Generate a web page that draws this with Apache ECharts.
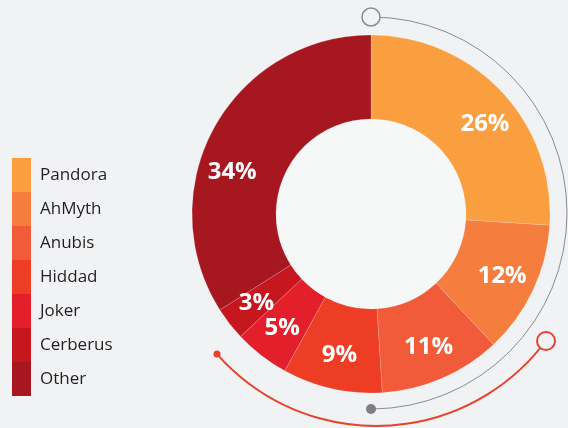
<!DOCTYPE html>
<html>
<head>
<meta charset="utf-8">
<title>Malware families</title>
<script src="https://cdn.jsdelivr.net/npm/echarts@6/dist/echarts.min.js"></script>
<style>
  html, body { margin: 0; padding: 0; background: #f1f2f4; }
  #main { width: 568px; height: 428px; }
</style>
</head>
<body>
<div id="main"></div>
<script>
// data
var families = ['Pandora', 'AhMyth', 'Anubis', 'Hiddad', 'Joker', 'Cerberus', 'Other'];
var shares = [26, 12, 11, 9, 5, 3, 34];
var colors = ['#fa9f40', '#f57d3d', '#f15b3a', '#ee3d25', '#e21f2b', '#c5171d', '#a6171f'];

var CX = 371, CY = 214;
var bg = '#f1f2f4';
// label placement tweaks (degrees, clockwise) for the two big slices
var labelTurn = { Pandora: 5, Other: -12 };
var labelR = 145;

var chart = echarts.init(document.getElementById('main'), null, { renderer: 'canvas' });

var pieData = families.map(function (name, i) {
  return { name: name, value: shares[i], itemStyle: { color: colors[i] } };
});

var deg = Math.PI / 180;

var option = {
  backgroundColor: bg,
  animation: false,
  legend: {
    orient: 'vertical',
    left: 12,
    top: 158,
    padding: 0,
    itemWidth: 19,
    itemHeight: 34,
    itemGap: 0,
    icon: 'rect',
    selectedMode: false,
    data: families,
    itemStyle: { borderWidth: 0 },
    textStyle: {
      fontFamily: 'Open Sans',
      fontSize: 17,
      color: '#231f20',
      padding: [5, 0, 0, 4]
    }
  },
  graphic: [
    // light inner disc
    { type: 'circle', z: 0, shape: { cx: CX, cy: CY, r: 95 }, style: { fill: '#f6f7f7' } },
    // grey arc on the right
    { type: 'arc', z: 1, shape: { cx: CX, cy: 213, r: 196, startAngle: -90 * deg, endAngle: 90 * deg, clockwise: true },
      style: { stroke: '#8c8c8e', lineWidth: 1, fill: null } },
    { type: 'circle', z: 2, shape: { cx: CX, cy: 17, r: 9 }, style: { fill: bg, stroke: '#8c8c8e', lineWidth: 1.5 } },
    { type: 'circle', z: 2, shape: { cx: CX, cy: 409, r: 5 }, style: { fill: '#7f7f82' } },
    // red arc at the bottom
    { type: 'arc', z: 1, shape: { cx: 376, cy: 214, r: 212, startAngle: 36.8 * deg, endAngle: 138.6 * deg, clockwise: true },
      style: { stroke: '#e8412c', lineWidth: 2, fill: null } },
    { type: 'circle', z: 2, shape: { cx: 546, cy: 341, r: 9 }, style: { fill: bg, stroke: '#e8412c', lineWidth: 2 } },
    { type: 'circle', z: 2, shape: { cx: 217, cy: 354, r: 3.5 }, style: { fill: '#e8412c' } }
  ],
  series: [
    {
      type: 'pie',
      center: [CX, CY],
      radius: [95, 179],
      startAngle: 90,
      clockwise: true,
      silent: true,
      data: pieData,
      itemStyle: { borderColor: 'rgba(255,255,255,0.35)', borderWidth: 0.5 },
      label: {
        show: true,
        position: 'inside',
        formatter: '{c}%',
        color: '#fff',
        fontFamily: 'Open Sans',
        fontWeight: 'bold',
        fontSize: 24
      },
      labelLine: { show: false },
      labelLayout: function (p) {
        var r = p.labelRect;
        var x = r.x + r.width / 2, y = r.y + r.height / 2;
        var turn = labelTurn[families[p.dataIndex]] || 0;
        var a = Math.atan2(y - CY, x - CX) + turn * deg;
        return {
          dx: CX + labelR * Math.cos(a) - x,
          dy: CY + labelR * Math.sin(a) - y
        };
      }
    }
  ]
};

chart.setOption(option);
</script>
</body>
</html>
